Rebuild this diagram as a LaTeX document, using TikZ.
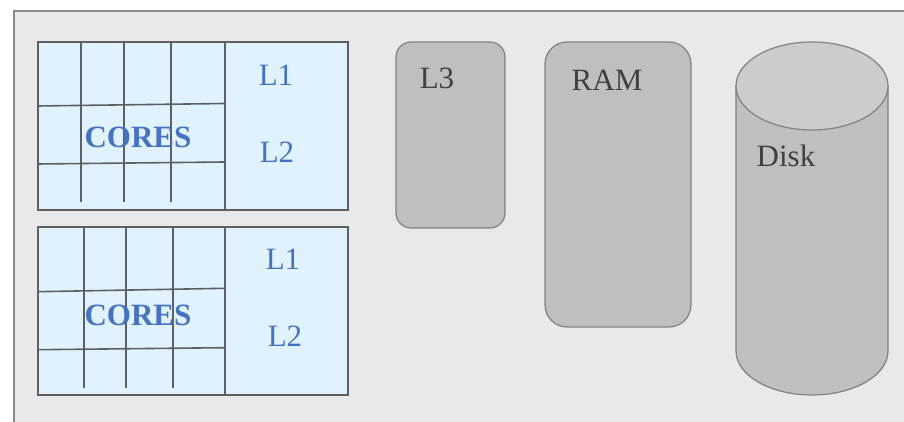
\documentclass[tikz,border=0pt]{standalone}
\usepackage{fontspec}
\setmainfont{Liberation Serif}
\usetikzlibrary{positioning}

\definecolor{panel}{RGB}{233,233,233}
\definecolor{framegray}{RGB}{140,140,140}
\definecolor{cachefill}{RGB}{224,242,254}
\definecolor{gridline}{RGB}{95,95,95}
\definecolor{coreblue}{RGB}{68,114,196}
\definecolor{memfill}{RGB}{191,191,191}
\definecolor{memline}{RGB}{128,128,128}
\definecolor{disktopfill}{RGB}{204,204,204}
\definecolor{memtext}{RGB}{64,64,64}

\begin{document}
\begin{tikzpicture}[x=0.5pt,y=0.5pt,
  corebox/.style={draw=gridline, line width=0.8pt, fill=cachefill,
    minimum width=155pt, minimum height=84pt, inner sep=0pt},
  membox/.style={draw=memline, line width=0.6pt, fill=memfill, inner sep=0pt},
  cachelbl/.style={text=coreblue, font=\fontsize{15.5}{18}\selectfont, inner sep=0pt},
  corelbl/.style={text=coreblue, font=\fontsize{15.5}{18}\selectfont\bfseries, inner sep=0pt},
  memlbl/.style={text=memtext, font=\fontsize{15.5}{18}\selectfont, inner sep=0pt},
  grid/.style={draw=gridline, line width=0.8pt}]

\useasboundingbox (0,0) rectangle (904,422);

% Panel
\fill[panel] (14,-10) rectangle (920,411);
\draw[framegray, line width=1pt] (14,-10) -- (14,411) -- (920,411);

% Nodes

\node[corebox] (cpuA) at (193,296) {};
\node[corebox] (cpuB) at (193,111) {};

\node[membox, rounded corners=7.5pt, minimum width=54.5pt, minimum height=93pt]
  (l3) at (450.5,287) {};
\node[membox, rounded corners=11pt, minimum width=73pt, minimum height=142.5pt]
  (ram) at (618,237.5) {};

% Disk
\coordinate (disk) at (812,336);
\fill[memfill] (736,336) -- (736,71)
  arc[start angle=180, end angle=360, x radius=76, y radius=44] -- (888,336) -- cycle;
\draw[memline, line width=0.6pt] (736,336) -- (736,71)
  arc[start angle=180, end angle=360, x radius=76, y radius=44] -- (888,336);
\filldraw[fill=disktopfill, draw=memline, line width=0.6pt] (disk) ellipse[x radius=76, y radius=44];

% Core grids
\draw[grid] (225,380) -- (225,212);
\foreach \x in {81,124,171} \draw[grid] (\x,380) -- (\x,220);
\draw[grid] (38,316) -- (225,318.5);
\draw[grid] (38,258) -- (225,260);

\draw[grid] (225,195) -- (225,27);
\foreach \x in {84,126,173} \draw[grid] (\x,195) -- (\x,34);
\draw[grid] (38,130.3) -- (225,133.7);
\draw[grid] (38,72.3) -- (225,74.3);

% Labels
\node[corelbl] (coresA) at (138,285) {CORES};
\node[cachelbl] (l1A) at (276,347) {L1};
\node[cachelbl] (l2A) at (277,270) {L2};

\node[corelbl] (coresB) at (138,107) {CORES};
\node[cachelbl] (l1B) at (283,163) {L1};
\node[cachelbl] (l2B) at (285,86) {L2};

\node[memlbl] (l3lbl) at (437,344) {L3};
\node[memlbl] (ramlbl) at (607,342) {RAM};
\node[memlbl] (disklbl) at (786,266) {Disk};

\end{tikzpicture}
\end{document}
